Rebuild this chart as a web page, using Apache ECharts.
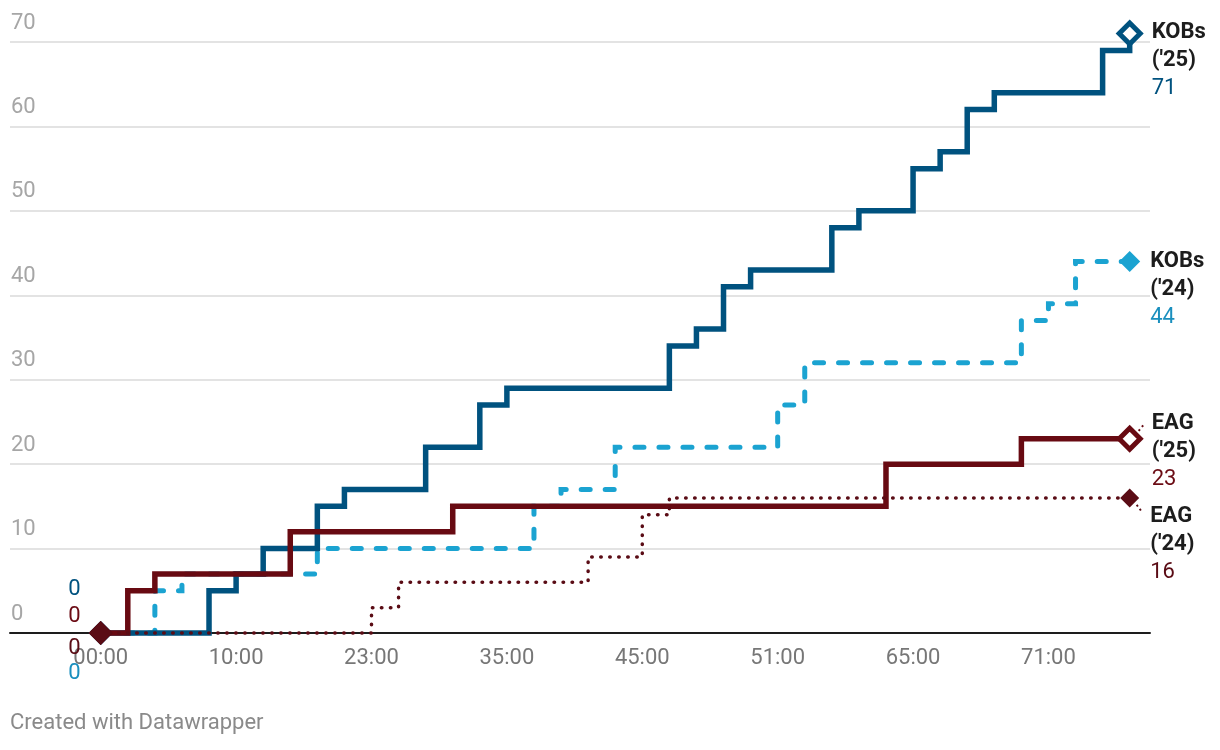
<!DOCTYPE html>
<html>
<head>
<meta charset="utf-8">
<script src="https://cdn.jsdelivr.net/npm/echarts@6/dist/echarts.min.js"></script>
<style>
html,body{margin:0;padding:0;background:#fff;}
#chart{width:1220px;height:750px;}
</style>
</head>
<body>
<div id="chart"></div>
<script>
// x positions are row indices of the event table; labels every 10 rows
const xTickIndex = [0, 10, 20, 30, 40, 50, 60, 70];
const xTickLabels = ['00:00', '10:00', '23:00', '35:00', '45:00', '51:00', '65:00', '71:00'];
const yTicks = [0, 10, 20, 30, 40, 50, 60, 70];

// KOBs ('25)
const kobs25X = [0, 8, 10, 12, 16, 18, 24, 28, 30, 42, 44, 46, 48, 54, 56, 60, 62, 64, 66, 74, 76];
const kobs25Y = [0, 5, 7, 10, 15, 17, 22, 27, 29, 34, 36, 41, 43, 48, 50, 55, 57, 62, 64, 69, 71];
// KOBs ('24)
const kobs24X = [0, 4, 6, 16, 32, 34, 38, 50, 52, 68, 70, 72, 76];
const kobs24Y = [0, 5, 7, 10, 15, 17, 22, 27, 32, 37, 39, 44, 44];
// EAG ('25)
const eag25X = [0, 2, 4, 14, 26, 58, 68, 76];
const eag25Y = [0, 5, 7, 12, 15, 20, 23, 23];
// EAG ('24)
const eag24X = [0, 20, 22, 36, 40, 42, 76];
const eag24Y = [0, 3, 6, 9, 14, 16, 16];

const seriesNames = ["KOBs ('24)", "KOBs ('25)", "EAG ('25)", "EAG ('24)"];

const FONT = 'Roboto';

function build(xs, ys, cfg) {
  return xs.map((x, i) => {
    const item = { value: [x, ys[i]] };
    if (i === 0) {
      item.symbol = 'diamond';
      item.symbolSize = 24;
      item.itemStyle = { color: cfg.color, borderWidth: 0 };
      item.label = {
        show: true, position: 'left', distance: 8, offset: [0, cfg.startDy],
        formatter: String(ys[0]), color: cfg.textColor, fontSize: 22, fontFamily: FONT
      };
    } else if (i === xs.length - 1) {
      item.symbol = 'diamond';
      item.symbolSize = cfg.endSize;
      item.itemStyle = cfg.hollow
        ? { color: '#ffffff', borderColor: cfg.color, borderWidth: 5 }
        : { color: cfg.color, borderWidth: 0 };
      const parts = cfg.name.split(' ');
      item.label = {
        show: true, position: 'right', distance: cfg.endDist, offset: [0, cfg.endDy],
        align: 'left', verticalAlign: 'middle',
        formatter: '{n|' + parts[0] + '}\n{n|' + parts[1] + '}\n{v|' + ys[i] + '}',
        rich: {
          n: { fontSize: 22, fontWeight: 'bold', color: '#1d1d1d', lineHeight: 28, fontFamily: FONT },
          v: { fontSize: 22, color: cfg.textColor, lineHeight: 28, fontFamily: FONT }
        }
      };
    }
    return item;
  });
}

const cfgs = [
  { name: seriesNames[0], xs: kobs24X, ys: kobs24Y, color: '#1ba3d1', textColor: '#1a8fbe',
    width: 5, type: [9, 15], hollow: false, endSize: 21, endDist: 10, endDy: 28, startDy: 40, leader: null },
  { name: seriesNames[1], xs: kobs25X, ys: kobs25Y, color: '#00527f', textColor: '#00527f',
    width: 5.5, type: 'solid', hollow: true, endSize: 21, endDist: 9, endDy: 27, startDy: -44, leader: null },
  { name: seriesNames[2], xs: eag25X, ys: eag25Y, color: '#680a12', textColor: '#6b0b14',
    width: 5.5, type: 'solid', hollow: true, endSize: 21, endDist: 9, endDy: 13, startDy: -17, leader: [[9, -8], [14, -14]] },
  { name: seriesNames[3], xs: eag24X, ys: eag24Y, color: '#5a0c15', textColor: '#5a0c15',
    width: 3.5, type: [0.5, 8.5], hollow: false, endSize: 19, endDist: 11, endDy: 47, startDy: 15, leader: [[7, 7], [13, 15]] }
];

const chart = echarts.init(document.getElementById('chart'), null, { renderer: 'canvas' });

const option = {
  animation: false,
  backgroundColor: '#ffffff',
  textStyle: { fontFamily: FONT },
  grid: { left: 10, right: 70, top: 42, bottom: 117, containLabel: false },
  xAxis: {
    type: 'value', min: -6.7, max: 77.5,
    axisLine: { show: true, onZero: false, lineStyle: { color: '#1d1d1d', width: 2 } },
    axisTick: { show: false },
    splitLine: { show: false },
    axisLabel: {
      customValues: xTickIndex,
      formatter: (v) => xTickLabels[xTickIndex.indexOf(Math.round(v))] || '',
      color: '#777777', fontSize: 22, margin: 14, fontFamily: FONT
    }
  },
  yAxis: {
    type: 'value', min: 0, max: 70, interval: 10,
    axisLine: { show: false },
    axisTick: { show: false },
    splitLine: { show: true, lineStyle: { color: '#e3e3e3', width: 2 } },
    axisLabel: {
      inside: true, margin: 1, verticalAlign: 'bottom', padding: [0, 0, 8, 0],
      color: '#a6a6a6', fontSize: 22, fontFamily: FONT,
      customValues: yTicks
    }
  },
  series: cfgs.map((c, k) => ({
    type: 'line',
    name: c.name,
    step: 'end',
    clip: false,
    symbol: 'none',
    showSymbol: true,
    z: 2 + k,
    lineStyle: { color: c.color, width: c.width, type: c.type, cap: 'round', join: 'miter' },
    itemStyle: { color: c.color },
    emphasis: { disabled: true },
    data: build(c.xs, c.ys, c)
  }))
};

chart.setOption(option);

// footer + short dotted leader lines from the end markers to their labels
const graphics = [
  { type: 'text', left: 10, top: 712,
    style: { text: 'Created with Datawrapper', fill: '#8a8a8a', fontSize: 22, fontFamily: FONT } }
];
cfgs.forEach((c) => {
  if (!c.leader) return;
  const last = c.xs.length - 1;
  const p = chart.convertToPixel({ gridIndex: 0 }, [c.xs[last], c.ys[last]]);
  graphics.push({
    type: 'line', z: 20,
    shape: { x1: p[0] + c.leader[0][0], y1: p[1] + c.leader[0][1], x2: p[0] + c.leader[1][0], y2: p[1] + c.leader[1][1] },
    style: { stroke: c.color, lineWidth: 2, lineDash: [2, 3] }
  });
});
chart.setOption({ graphic: graphics });
</script>
</body>
</html>
